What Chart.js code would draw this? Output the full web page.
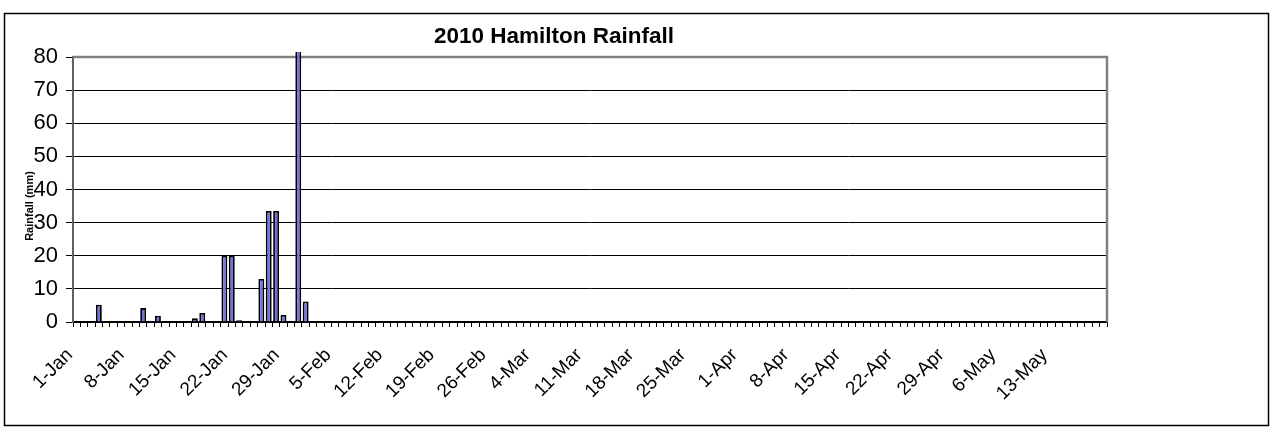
<!DOCTYPE html>
<html lang="en">
<head>
<meta charset="UTF-8">
<title>2010 Hamilton Rainfall</title>
<script src="https://cdn.jsdelivr.net/npm/chart.js@4.4.1/dist/chart.umd.min.js"></script>
<style>
	html, body { margin: 0; padding: 0; background: #fff; }
	#wrap { width: 1277px; height: 433px; position: relative; }
</style>
</head>
<body>
<div id="wrap"><canvas id="pizarra" width="1277" height="433"></canvas></div>
<script>
	// dias (1-Jan .. 20-May)
	const dias = [
		'1-Jan','2-Jan','3-Jan','4-Jan','5-Jan','6-Jan','7-Jan',
		'8-Jan','9-Jan','10-Jan','11-Jan','12-Jan','13-Jan','14-Jan',
		'15-Jan','16-Jan','17-Jan','18-Jan','19-Jan','20-Jan','21-Jan',
		'22-Jan','23-Jan','24-Jan','25-Jan','26-Jan','27-Jan','28-Jan',
		'29-Jan','30-Jan','31-Jan','1-Feb','2-Feb','3-Feb','4-Feb',
		'5-Feb','6-Feb','7-Feb','8-Feb','9-Feb','10-Feb','11-Feb',
		'12-Feb','13-Feb','14-Feb','15-Feb','16-Feb','17-Feb','18-Feb',
		'19-Feb','20-Feb','21-Feb','22-Feb','23-Feb','24-Feb','25-Feb',
		'26-Feb','27-Feb','28-Feb','1-Mar','2-Mar','3-Mar','4-Mar',
		'5-Mar','6-Mar','7-Mar','8-Mar','9-Mar','10-Mar','11-Mar',
		'12-Mar','13-Mar','14-Mar','15-Mar','16-Mar','17-Mar','18-Mar',
		'19-Mar','20-Mar','21-Mar','22-Mar','23-Mar','24-Mar','25-Mar',
		'26-Mar','27-Mar','28-Mar','29-Mar','30-Mar','31-Mar','1-Apr',
		'2-Apr','3-Apr','4-Apr','5-Apr','6-Apr','7-Apr','8-Apr',
		'9-Apr','10-Apr','11-Apr','12-Apr','13-Apr','14-Apr','15-Apr',
		'16-Apr','17-Apr','18-Apr','19-Apr','20-Apr','21-Apr','22-Apr',
		'23-Apr','24-Apr','25-Apr','26-Apr','27-Apr','28-Apr','29-Apr',
		'30-Apr','1-May','2-May','3-May','4-May','5-May','6-May',
		'7-May','8-May','9-May','10-May','11-May','12-May','13-May',
		'14-May','15-May','16-May','17-May','18-May','19-May','20-May'
	]

	// lluvia (mm), una fila por semana
	const lluvia = [
		0, 0, 0, 5.2, 0, 0, 0,
		0, 0, 4.2, 0.4, 1.9, 0, 0,
		0, 0, 1.1, 2.7, 0, 0, 20,
		20, 0.5, 0, 0, 13, 33.5, 33.5,
		2.1, 0, 85, 6.2, 0, 0, 0,
		0, 0, 0, 0, 0, 0, 0,
		0, 0, 0, 0, 0, 0, 0,
		0, 0, 0, 0, 0, 0, 0,
		0, 0, 0, 0, 0, 0, 0,
		0, 0, 0, 0, 0, 0, 0,
		0, 0, 0, 0, 0, 0, 0,
		0, 0, 0, 0, 0, 0, 0,
		0, 0, 0, 0, 0, 0, 0,
		0, 0, 0, 0, 0, 0, 0,
		0, 0, 0, 0, 0, 0, 0,
		0, 0, 0, 0, 0, 0, 0,
		0, 0, 0, 0, 0, 0, 0,
		0, 0, 0, 0, 0, 0, 0,
		0, 0, 0, 0, 0, 0, 0,
		0, 0, 0, 0, 0, 0, 0
	]

	// etiquetas visibles del eje x (una por semana)
	const etiquetasX = ['1-Jan','8-Jan','15-Jan','22-Jan','29-Jan','5-Feb','12-Feb','19-Feb','26-Feb',
		'4-Mar','11-Mar','18-Mar','25-Mar','1-Apr','8-Apr','15-Apr','22-Apr','29-Apr','6-May','13-May']

	const titulo = '2010 Hamilton Rainfall'
	const tituloEje = 'Rainfall (mm)'
	const fuente = '"Liberation Sans", Arial, sans-serif'

	// marco exterior, borde del area de grafico y textos
	const decorado = {
		id: 'decorado',
		beforeDraw(chart) {
			const c = chart.ctx
			c.save()
			c.fillStyle = '#fff'
			c.fillRect(0, 0, chart.width, chart.height)
			c.strokeStyle = '#000'
			c.lineWidth = 1.5
			c.strokeRect(4.5, 13.5, 1264, 412)
			c.restore()
		},
		beforeDatasetsDraw(chart) {
			const a = chart.chartArea
			const c = chart.ctx
			c.save()
			c.strokeStyle = '#808080'
			c.lineWidth = 2.5
			c.beginPath()
			c.moveTo(a.left, a.top)
			c.lineTo(a.right, a.top)
			c.lineTo(a.right, a.bottom)
			c.stroke()
			c.restore()
		},
		afterDraw(chart) {
			const c = chart.ctx
			c.save()
			c.fillStyle = '#000'
			c.font = 'bold 22.5px ' + fuente
			c.textAlign = 'center'
			c.textBaseline = 'middle'
			c.fillText(titulo, 554, 37)
			c.translate(30, 206)
			c.rotate(-Math.PI / 2)
			c.font = 'bold 11px ' + fuente
			c.fillText(tituloEje, 0, 0)
			c.restore()
		}
	}

	const g = document.getElementById('pizarra')
	const myChart = new Chart(g, {
		type: 'bar',
		data: {
			labels: dias,
			datasets: [{
				label: 'Rainfall (mm)',
				data: lluvia,
				backgroundColor: '#7272dc',
				borderColor: '#000',
				borderWidth: 1.8,
				barPercentage: 0.8,
				categoryPercentage: 1,
				clip: { left: 0, top: 5, right: 0, bottom: 0 }
			}]
		},
		options: {
			responsive: false,
			animation: false,
			layout: { padding: { left: 0, top: 57, right: 170, bottom: 0 } },
			plugins: {
				legend: { display: false },
				title: { display: false },
				tooltip: { enabled: false }
			},
			scales: {
				x: {
					afterFit(scale) { scale.height = 111 },
					grid: { drawOnChartArea: false, drawTicks: true, tickLength: 5, color: '#000', offset: true },
					border: { color: '#000', width: 1.5 },
					ticks: {
						autoSkip: false,
						maxRotation: 45,
						minRotation: 45,
						color: '#000',
						padding: 17,
						labelOffset: -7,
						font: { family: fuente, size: 19 },
						callback(value, index) {
							const d = dias[index]
							return etiquetasX.includes(d) ? d : ''
						}
					}
				},
				y: {
					min: 0,
					max: 80,
					afterFit(scale) { scale.width = 73 },
					grid: { color: '#000', lineWidth: 1, tickLength: 7, drawTicks: true },
					border: { color: '#606060', width: 2 },
					ticks: {
						stepSize: 10,
						color: '#000',
						padding: 8,
						font: { family: fuente, size: 22 }
					}
				}
			}
		},
		plugins: [decorado]
	})
</script>
</body>
</html>
